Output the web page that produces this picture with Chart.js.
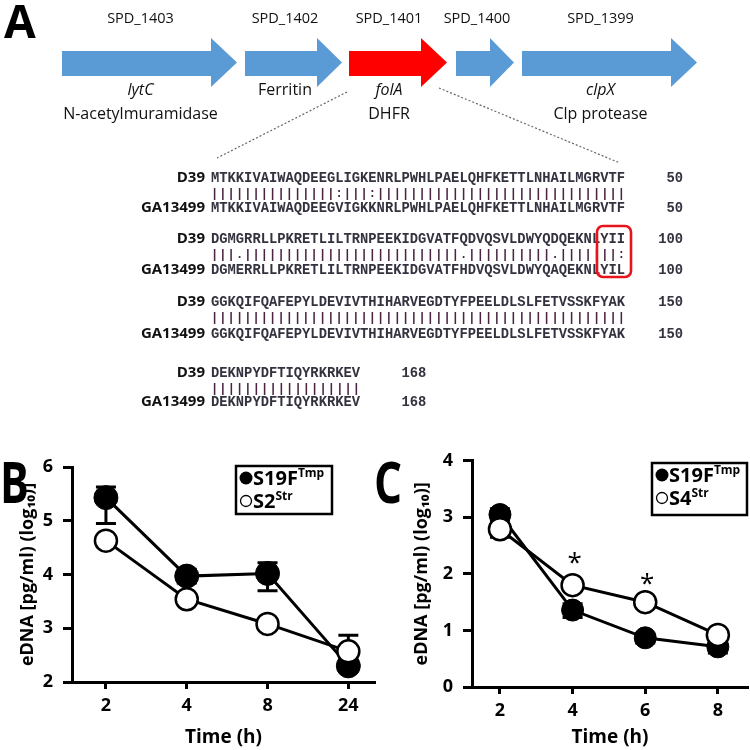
<!DOCTYPE html>
<html>
<head>
<meta charset="utf-8">
<script src="https://cdn.jsdelivr.net/npm/chart.js@4.4.1/dist/chart.umd.min.js"></script>
<style>
    html, body { margin: 0; padding: 0; background: #fff; }
    #page { position: relative; width: 750px; height: 750px; overflow: hidden; }
    canvas { position: absolute; top: 440px; }
    #chartB { left: 0; }
    #chartC { left: 380px; }
    #overlay { position: absolute; left: 0; top: 0; }
</style>
</head>
<body>
<div id="page">
    <canvas id="chartB" width="380" height="310"></canvas>
    <canvas id="chartC" width="370" height="310"></canvas>
    <svg id="overlay" width="750" height="750" xmlns="http://www.w3.org/2000/svg"></svg>
</div>
<script>
// ==================== Panel A: gene map ====================
const geneIds = ['SPD_1403', 'SPD_1402', 'SPD_1401', 'SPD_1400', 'SPD_1399'];
const geneTopLabels = ['lytC', 'Ferritin', 'folA', '', 'clpX'];
const geneTopItalic = [true, false, true, false, true];
const geneBottomLabels = ['N-acetylmuramidase', '', 'DHFR', '', 'Clp protease'];
const geneColors = ['#5b9bd5', '#5b9bd5', '#ff0000', '#5b9bd5', '#5b9bd5'];
// arrow layout (px): start of body, start of head, tip
const arrowStart = [62, 245, 349, 456, 522];
const arrowNeck = [211, 317, 421, 490, 671];
const arrowTip = [237, 342, 447, 514, 697];

// ==================== Panel A: alignment ====================
const seqNames = ['D39', 'GA13499'];
const seqD39 = [
    'MTKKIVAIWAQDEEGLIGKENRLPWHLPAELQHFKETTLNHAILMGRVTF',
    'DGMGRRLLPKRETLILTRNPEEKIDGVATFQDVQSVLDWYQDQEKNLYII',
    'GGKQIFQAFEPYLDEVIVTHIHARVEGDTYFPEELDLSLFETVSSKFYAK',
    'DEKNPYDFTIQYRKRKEV'
];
const seqGA13499 = [
    'MTKKIVAIWAQDEEGVIGKKNRLPWHLPAELQHFKETTLNHAILMGRVTF',
    'DGMERRLLPKRETLILTRNPEEKIDGVATFHDVQSVLDWYQAQEKNLYIL',
    'GGKQIFQAFEPYLDEVIVTHIHARVEGDTYFPEELDLSLFETVSSKFYAK',
    'DEKNPYDFTIQYRKRKEV'
];
const seqMatch = [
    '||||||||||' + '|||||:|||:' + '||||||||||' + '||||||||||' + '||||||||||',
    '|||.||||||' + '||||||||||' + '||||||||||.' + '||||||||||.' + '|||||||:',
    '||||||||||' + '||||||||||' + '||||||||||' + '||||||||||' + '||||||||||',
    '||||||||||' + '||||||||'
];
const seqEnds = ['50', '100', '150', '168'];
const seqRowD39Y = [182, 243, 306, 377];
const seqRowMatchY = [197, 258, 321, 392];
const seqRowGAY = [212, 274, 338, 406];

// ==================== Panel B ====================
const timesB = ['2', '4', '8', '24'];
const s19fB = [5.43, 3.97, 4.02, 2.30];
const s19fBLo = [4.95, 3.84, 3.70, 2.20];
const s19fBHi = [5.63, 4.10, 4.22, 2.42];
const s2B = [4.63, 3.54, 3.08, 2.57];
const s2BLo = [4.55, 3.47, 3.02, 2.28];
const s2BHi = [4.71, 3.61, 3.14, 2.87];

// ==================== Panel C ====================
const timesC = [2, 4, 6, 8];
const s19fC = [3.05, 1.36, 0.87, 0.71];
const s19fCLo = [2.95, 1.23, 0.78, 0.60];
const s19fCHi = [3.15, 1.47, 0.95, 0.82];
const s4C = [2.79, 1.80, 1.50, 0.92];
const s4CLo = [2.65, 1.71, 1.42, 0.82];
const s4CHi = [2.90, 1.88, 1.58, 1.00];
const sigTimesC = [4, 6];
const sigLevelsC = [2.28, 1.92];

const SANS = "'Open Sans', 'DejaVu Sans', sans-serif";
const MONO = "'Liberation Mono', 'DejaVu Sans Mono', monospace";

// ==================== overlay (svg) ====================
const svg = document.getElementById('overlay');
const NS = 'http://www.w3.org/2000/svg';

function el(tag, attrs, text) {
    const e = document.createElementNS(NS, tag);
    for (const k in attrs) e.setAttribute(k, attrs[k]);
    if (text !== undefined) e.textContent = text;
    svg.appendChild(e);
    return e;
}

function panelLetter(letter, x, y, size, sx) {
    el('text', {
        x: 0, y: 0, 'font-family': SANS, 'font-size': size, 'font-weight': 'bold',
        transform: `translate(${x},${y}) scale(${sx},1)`
    }, letter);
}

panelLetter('A', 4, 38, 46, 1);
panelLetter('B', 0, 503, 58, 0.74);
panelLetter('C', 374, 503, 58, 0.76);

// gene arrows
geneIds.forEach((id, i) => {
    const s = arrowStart[i], n = arrowNeck[i], t = arrowTip[i];
    el('polygon', {
        points: `${s},51 ${n},51 ${n},38 ${t},62.5 ${n},87 ${n},76 ${s},76`,
        fill: geneColors[i]
    });
    const cx = (s + n) / 2 + 4;
    el('text', { x: cx, y: 23, 'text-anchor': 'middle', 'font-family': SANS, 'font-size': 14.5, fill: '#111' }, id);
    if (geneTopLabels[i]) {
        el('text', {
            x: cx, y: 95, 'text-anchor': 'middle', 'font-family': SANS, 'font-size': 16,
            'font-style': geneTopItalic[i] ? 'italic' : 'normal', fill: '#111'
        }, geneTopLabels[i]);
    }
    if (geneBottomLabels[i]) {
        el('text', { x: cx, y: 119, 'text-anchor': 'middle', 'font-family': SANS, 'font-size': 16, fill: '#111' }, geneBottomLabels[i]);
    }
});

// dotted zoom lines
el('line', { x1: 347, y1: 92, x2: 217, y2: 158, stroke: '#666', 'stroke-width': 1.2, 'stroke-dasharray': '2 2' });
el('line', { x1: 439, y1: 88, x2: 620, y2: 163, stroke: '#666', 'stroke-width': 1.2, 'stroke-dasharray': '2 2' });

// alignment rows
const CHAR_W = 8.28;
const seqStyle = { 'font-family': MONO, 'font-size': 13.8, 'font-weight': 'bold', fill: '#33323f' };
seqD39.forEach((row, i) => {
    el('text', { x: 205, y: seqRowD39Y[i], 'text-anchor': 'end', 'font-family': SANS, 'font-size': 15, 'font-weight': 'bold', fill: '#111' }, seqNames[0]);
    el('text', { x: 205, y: seqRowGAY[i], 'text-anchor': 'end', 'font-family': SANS, 'font-size': 15, 'font-weight': 'bold', fill: '#111' }, seqNames[1]);
    el('text', Object.assign({ x: 211, y: seqRowD39Y[i], textLength: row.length * CHAR_W, lengthAdjust: 'spacing' }, seqStyle), row);
    el('text', Object.assign({ x: 211, y: seqRowGAY[i], textLength: seqGA13499[i].length * CHAR_W, lengthAdjust: 'spacing' }, seqStyle), seqGA13499[i]);
    el('text', { x: 211, y: seqRowMatchY[i], 'font-family': MONO, 'font-size': 12, 'font-weight': 'bold', fill: '#4a2442',
        textLength: seqMatch[i].length * CHAR_W, lengthAdjust: 'spacing' }, seqMatch[i]);
    [seqRowD39Y[i], seqRowGAY[i]].forEach(yy => {
        if (row.length === 50) {
            el('text', Object.assign({ x: 683, y: yy, 'text-anchor': 'end' }, seqStyle), seqEnds[i]);
        } else {
            el('text', Object.assign({ x: 211 + (row.length + 5) * CHAR_W, y: yy }, seqStyle), seqEnds[i]);
        }
    });
});

// red highlight box around YII / YIL
el('rect', { x: 597, y: 226, width: 34, height: 51, rx: 6, fill: 'none', stroke: '#e8141b', 'stroke-width': 2.6 });

// legends
function legend(x, y, w, h, rows) {
    el('rect', { x, y, width: w, height: h, fill: '#fff', stroke: '#000', 'stroke-width': 2.5 });
    rows.forEach(r => {
        if (r.filled) {
            el('circle', { cx: x + 10, cy: r.cy, r: 6.5, fill: '#000' });
        } else {
            el('circle', { cx: x + 10, cy: r.cy, r: 5.5, fill: '#fff', stroke: '#000', 'stroke-width': 1.3 });
        }
        const t = el('text', { x: x + 17, y: r.cy + 7, 'font-family': SANS, 'font-size': 20, 'font-weight': 'bold' });
        const main = document.createElementNS(NS, 'tspan');
        main.textContent = r.name;
        t.appendChild(main);
        const sup = document.createElementNS(NS, 'tspan');
        sup.setAttribute('font-size', 12);
        sup.setAttribute('dy', -8);
        sup.textContent = r.sup;
        t.appendChild(sup);
    });
}
legend(236, 466, 96, 48, [
    { filled: true, cy: 478, name: 'S19F', sup: 'Tmp' },
    { filled: false, cy: 501, name: 'S2', sup: 'Str' }
]);
legend(652, 463, 95, 52, [
    { filled: true, cy: 475, name: 'S19F', sup: 'Tmp' },
    { filled: false, cy: 498, name: 'S4', sup: 'Str' }
]);

// ==================== charts ====================
const errorBars = {
    id: 'errorBars',
    beforeDatasetsDraw(chart) {
        const { ctx, scales: { x, y } } = chart;
        ctx.save();
        ctx.strokeStyle = '#000';
        ctx.lineWidth = 3;
        chart.data.datasets.forEach(ds => {
            ds.data.forEach((p, i) => {
                const px = x.getPixelForValue(p.x);
                const lo = y.getPixelForValue(ds.errLo[i]);
                const hi = y.getPixelForValue(ds.errHi[i]);
                ctx.beginPath();
                ctx.moveTo(px, lo); ctx.lineTo(px, hi);
                ctx.moveTo(px - 10, lo); ctx.lineTo(px + 10, lo);
                ctx.moveTo(px - 10, hi); ctx.lineTo(px + 10, hi);
                ctx.stroke();
            });
        });
        ctx.restore();
    }
};

const sigMarks = {
    id: 'sigMarks',
    afterDatasetsDraw(chart, args, opts) {
        if (!opts.times) return;
        const { ctx, scales: { x, y } } = chart;
        ctx.save();
        ctx.fillStyle = '#000';
        ctx.font = `26px ${SANS}`;
        ctx.textAlign = 'center';
        ctx.textBaseline = 'middle';
        opts.times.forEach((t, i) => {
            ctx.fillText('*', x.getPixelForValue(t) + 2, y.getPixelForValue(opts.levels[i]) + 6);
        });
        ctx.restore();
    }
};

function series(values, lo, hi, xs, filled, radius) {
    return {
        data: values.map((v, i) => ({ x: xs[i], y: v })),
        errLo: lo,
        errHi: hi,
        borderColor: '#000',
        borderWidth: 3,
        tension: 0,
        pointRadius: radius,
        pointHoverRadius: radius,
        pointBackgroundColor: filled ? '#000' : '#fff',
        pointBorderColor: '#000',
        pointBorderWidth: filled ? 1 : 2.5
    };
}

function axisOptions(cfg) {
    return {
        x: {
            type: 'linear',
            min: cfg.xMin,
            max: cfg.xMax,
            afterBuildTicks: s => { s.ticks = cfg.xTicks.map(v => ({ value: v })); },
            afterFit: s => { s.height = cfg.xHeight; },
            ticks: { callback: cfg.xLabel, color: '#000', font: { size: 18, weight: 'bold' }, padding: 6, maxRotation: 0 },
            grid: { drawOnChartArea: false, tickLength: 7, tickWidth: 3, tickColor: '#000' },
            border: { color: '#000', width: 3 },
            title: { display: true, text: 'Time (h)', color: '#000', font: { size: 19, weight: 'bold' }, padding: { top: 0, bottom: 1 } }
        },
        y: {
            min: cfg.yMin,
            max: cfg.yMax,
            afterFit: s => { s.width = cfg.yWidth; },
            ticks: { stepSize: 1, color: '#000', font: { size: 18, weight: 'bold' }, padding: 10 },
            grid: { drawOnChartArea: false, tickLength: 9, tickWidth: 3, tickColor: '#000' },
            border: { color: '#000', width: 3 },
            title: { display: true, text: 'eDNA [pg/ml) (log₁₀)]', color: '#000', font: { size: 18, weight: 'bold' }, padding: { top: cfg.yTitlePad, bottom: 0 } }
        }
    };
}

Chart.defaults.font.family = SANS;

const idxB = [0, 1, 2, 3];
new Chart(document.getElementById('chartB'), {
    type: 'line',
    data: {
        datasets: [
            series(s2B, s2BLo, s2BHi, idxB, false, 11),
            series(s19fB, s19fBLo, s19fBHi, idxB, true, 12)
        ]
    },
    options: {
        responsive: false,
        animation: false,
        layout: { autoPadding: false, padding: { left: 0, right: 5, top: 27, bottom: 0 } },
        plugins: { legend: { display: false }, tooltip: { enabled: false } },
        scales: axisOptions({
            xMin: -0.42, xMax: 3.33, xTicks: idxB, xLabel: v => timesB[v], xHeight: 68,
            yMin: 2, yMax: 6, yWidth: 72, yTitlePad: 17
        })
    },
    plugins: [errorBars]
});

new Chart(document.getElementById('chartC'), {
    type: 'line',
    data: {
        datasets: [
            series(s4C, s4CLo, s4CHi, timesC, false, 11),
            series(s19fC, s19fCLo, s19fCHi, timesC, true, 11)
        ]
    },
    options: {
        responsive: false,
        animation: false,
        layout: { autoPadding: false, padding: { left: 0, right: 2, top: 20, bottom: 0 } },
        plugins: {
            legend: { display: false },
            tooltip: { enabled: false },
            sigMarks: { times: sigTimesC, levels: sigLevelsC }
        },
        scales: axisOptions({
            xMin: 1.23, xMax: 8.83, xTicks: timesC, xLabel: v => String(v), xHeight: 63,
            yMin: 0, yMax: 4, yWidth: 92, yTitlePad: 31
        })
    },
    plugins: [errorBars, sigMarks]
});
</script>
</body>
</html>
